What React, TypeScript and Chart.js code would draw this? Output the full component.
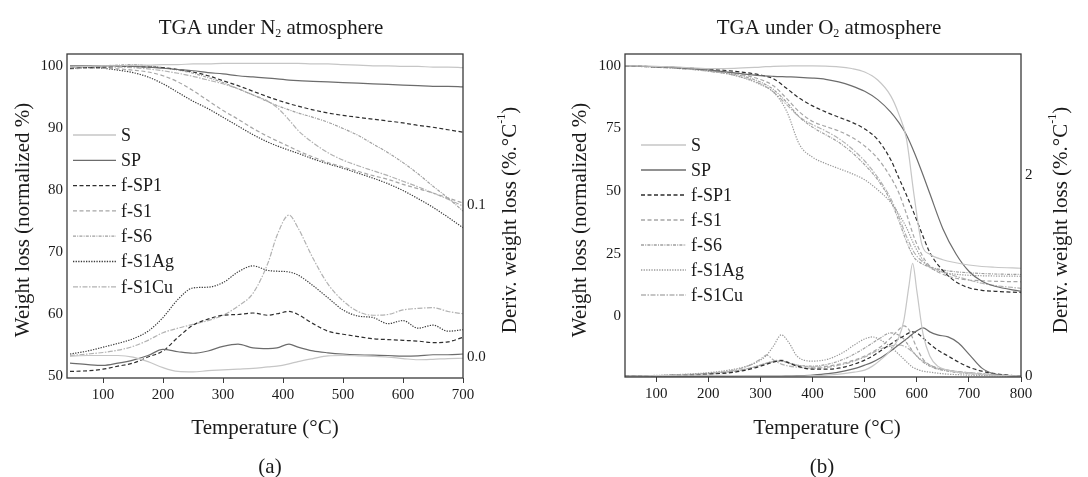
import React, { useEffect, useRef } from 'react';
import { Chart, registerables } from 'chart.js';

Chart.register(...registerables);

const FONT = '"Liberation Serif", "Times New Roman", serif';

// ---------- series names ----------
const SERIES = ['S', 'SP', 'f-SP1', 'f-S1', 'f-S6', 'f-S1Ag', 'f-S1Cu'];

// ---------- panel (a): TGA under N2 ----------
const TEMP_A = [45, 75, 100, 125, 150, 175, 200, 225, 250, 275, 300, 325, 350, 375, 390, 410, 425, 450, 475, 500, 525, 550, 575, 600, 625, 650, 675, 700];
const X_TICKS_A = [100, 200, 300, 400, 500, 600, 700];
const Y_TICKS_A = [50, 60, 70, 80, 90, 100];
const Y1_TICKS_A = [0, 0.1];

const TGA_A_S = [99.8, 99.9, 100.0, 100.0, 100.1, 100.1, 100.2, 100.2, 100.3, 100.3, 100.4, 100.4, 100.4, 100.4, 100.4, 100.4, 100.4, 100.3, 100.3, 100.2, 100.1, 100.0, 100.0, 99.9, 99.9, 99.8, 99.8, 99.7];
const TGA_A_SP = [100.0, 100.0, 100.0, 100.0, 99.9, 99.8, 99.6, 99.4, 99.2, 98.9, 98.7, 98.4, 98.2, 98.0, 97.9, 97.7, 97.6, 97.5, 97.4, 97.3, 97.2, 97.1, 97.0, 96.9, 96.8, 96.7, 96.7, 96.6];
const TGA_A_FSP1 = [99.6, 99.8, 99.8, 99.9, 99.9, 99.8, 99.7, 99.4, 99.0, 98.4, 97.6, 96.8, 95.9, 95.0, 94.5, 93.9, 93.5, 92.9, 92.4, 92.0, 91.7, 91.4, 91.1, 90.8, 90.4, 90.1, 89.7, 89.3];
const TGA_A_FS1 = [99.5, 99.6, 99.6, 99.5, 99.3, 99.0, 98.4, 97.4, 96.0, 94.4, 92.8, 91.4, 89.9, 88.6, 87.9, 87.0, 86.3, 85.3, 84.4, 83.7, 83.0, 82.3, 81.7, 80.9, 80.2, 79.5, 78.7, 77.9];
const TGA_A_FS6 = [99.8, 99.9, 100.0, 100.1, 100.2, 100.0, 99.7, 99.3, 98.8, 98.1, 97.3, 96.3, 95.3, 94.2, 93.6, 92.9, 92.4, 91.7, 90.9, 89.9, 88.8, 87.4, 86.0, 84.4, 82.6, 80.6, 78.7, 76.6];
const TGA_A_FS1AG = [99.6, 99.7, 99.6, 99.3, 98.9, 98.2, 97.1, 95.7, 94.3, 93.1, 91.7, 90.3, 88.9, 87.7, 87.1, 86.4, 85.9, 85.0, 84.2, 83.5, 82.7, 81.9, 81.0, 79.9, 78.6, 77.2, 75.6, 73.9];
const TGA_A_FS1CU = [99.8, 99.8, 99.8, 99.8, 99.7, 99.5, 99.2, 98.8, 98.3, 97.7, 97.1, 96.3, 95.3, 94.3, 93.3, 91.3, 89.6, 87.6, 86.0, 84.8, 83.9, 83.1, 82.3, 81.4, 80.5, 79.5, 78.5, 77.4];

const DTG_A_S = [0.0005, 0.001, 0.001, 0.001, 0.0, -0.003, -0.007, -0.0095, -0.0098, -0.009, -0.0085, -0.008, -0.0075, -0.0065, -0.006, -0.0045, -0.003, -0.001, 0.0008, 0.001, 0.0008, 0.0005, 0.0, -0.001, -0.0018, -0.0015, -0.001, -0.0008];
const DTG_A_SP = [-0.004, -0.005, -0.0055, -0.004, -0.002, 0.001, 0.005, 0.0035, 0.0025, 0.004, 0.007, 0.0085, 0.006, 0.0055, 0.006, 0.0085, 0.0065, 0.004, 0.0028, 0.002, 0.0015, 0.0012, 0.001, 0.0006, 0.0008, 0.0015, 0.0015, 0.002];
const DTG_A_FSP1 = [-0.0095, -0.009, -0.008, -0.006, -0.004, 0.0, 0.004, 0.013, 0.021, 0.025, 0.0275, 0.028, 0.029, 0.0275, 0.0285, 0.03, 0.028, 0.022, 0.017, 0.015, 0.0135, 0.012, 0.0115, 0.011, 0.0105, 0.0095, 0.010, 0.013];
const DTG_A_FS1AG = [0.002, 0.004, 0.0065, 0.009, 0.012, 0.017, 0.026, 0.038, 0.0455, 0.046, 0.049, 0.056, 0.060, 0.057, 0.0565, 0.056, 0.054, 0.047, 0.039, 0.031, 0.027, 0.026, 0.022, 0.024, 0.019, 0.021, 0.017, 0.018];
const DTG_A_FS1CU = [0.001, 0.002, 0.003, 0.0045, 0.007, 0.011, 0.016, 0.019, 0.0215, 0.024, 0.0275, 0.0335, 0.042, 0.062, 0.08, 0.0935, 0.085, 0.065, 0.048, 0.037, 0.030, 0.0275, 0.028, 0.031, 0.032, 0.0325, 0.030, 0.0285];

// ---------- panel (b): TGA under O2 ----------
const TEMP_B = [40, 100, 150, 200, 250, 300, 325, 350, 375, 400, 425, 450, 475, 500, 525, 550, 565, 580, 595, 610, 625, 650, 675, 700, 725, 750, 800];
const TEMP_BD = [40, 100, 150, 200, 250, 280, 300, 312, 325, 340, 355, 370, 400, 430, 460, 480, 500, 515, 530, 550, 565, 575, 585, 592, 600, 612, 625, 640, 660, 680, 700, 725, 750, 775, 800];
const X_TICKS_B = [100, 200, 300, 400, 500, 600, 700, 800];
const Y_TICKS_B = [0, 25, 50, 75, 100];
const Y1_TICKS_B = [0, 2];

const TGA_B_S = [100, 99.8, 99.4, 98.9, 99.0, 99.5, 99.8, 99.9, 100, 100, 99.9, 99.6, 98.9, 97.5, 94.3, 88.0, 81.0, 71.0, 48.0, 28.5, 24.8, 22.6, 21.4, 20.5, 19.9, 19.6, 19.2];
const TGA_B_SP = [100, 99.7, 99.2, 98.4, 97.2, 96.1, 95.8, 95.6, 95.4, 95.1, 94.6, 93.6, 92.0, 89.8, 86.5, 81.5, 77.5, 72.5, 65.5, 57.5, 49.0, 35.0, 25.0, 18.0, 14.0, 12.0, 10.0];
const TGA_B_FSP1 = [100, 99.6, 99.2, 98.6, 97.8, 96.3, 94.8, 91.0, 87.0, 84.0, 81.6, 79.5, 77.5, 74.8, 70.5, 62.5, 55.5, 48.5, 41.0, 33.0, 25.5, 18.3, 13.8, 11.4, 10.4, 10.0, 9.5];
const TGA_B_FS1 = [100, 99.6, 99.1, 98.3, 97.0, 94.5, 92.0, 87.0, 81.5, 77.8, 75.8, 74.0, 71.5, 68.0, 63.0, 55.5, 49.5, 41.0, 31.5, 24.5, 20.0, 16.8, 15.2, 14.5, 14.2, 14.0, 13.8];
const TGA_B_FS6 = [100, 99.5, 99.0, 98.1, 96.7, 93.5, 90.5, 85.5, 79.5, 75.5, 72.5, 69.5, 65.5, 60.5, 54.5, 46.0, 38.5, 30.0, 23.5, 21.0, 19.7, 18.5, 17.8, 17.4, 17.1, 16.9, 16.7];
const TGA_B_FS1AG = [100, 99.5, 98.9, 97.9, 96.2, 92.5, 89.5, 82.0, 68.5, 63.5, 61.0, 59.0, 57.0, 54.5, 50.5, 45.5, 41.0, 35.5, 28.5, 23.0, 19.5, 17.6, 16.8, 16.4, 16.2, 16.1, 16.0];
const TGA_B_FS1CU = [100, 99.4, 98.8, 97.8, 96.2, 92.8, 89.5, 84.5, 79.5, 76.5, 74.0, 71.0, 67.0, 62.0, 55.5, 47.0, 40.0, 32.0, 25.5, 22.0, 20.0, 17.8, 16.0, 14.5, 13.2, 12.3, 11.2];

const DTG_B_S = [0, 0.005, 0.01, 0.012, 0.005, 0, 0, 0, 0, 0, 0, 0, 0.005, 0.012, 0.025, 0.04, 0.06, 0.1, 0.16, 0.26, 0.38, 0.55, 0.9, 1.12, 0.85, 0.42, 0.2, 0.1, 0.06, 0.04, 0.03, 0.02, 0.01, 0.005, 0];
const DTG_B_SP = [0, 0, 0, 0, 0, 0, 0, 0, 0, 0.002, 0.004, 0.006, 0.012, 0.025, 0.05, 0.075, 0.11, 0.14, 0.18, 0.25, 0.31, 0.35, 0.39, 0.42, 0.45, 0.48, 0.44, 0.41, 0.39, 0.33, 0.22, 0.08, 0.02, 0.005, 0];
const DTG_B_FSP1 = [0, 0.005, 0.01, 0.02, 0.04, 0.07, 0.1, 0.12, 0.14, 0.155, 0.13, 0.1, 0.07, 0.07, 0.09, 0.12, 0.16, 0.2, 0.25, 0.32, 0.37, 0.4, 0.43, 0.44, 0.43, 0.38, 0.32, 0.26, 0.2, 0.14, 0.09, 0.05, 0.025, 0.01, 0];
const DTG_B_FS1 = [0, 0.005, 0.012, 0.025, 0.05, 0.08, 0.11, 0.13, 0.15, 0.16, 0.135, 0.11, 0.09, 0.1, 0.13, 0.16, 0.2, 0.24, 0.29, 0.38, 0.46, 0.5, 0.46, 0.38, 0.28, 0.17, 0.11, 0.08, 0.06, 0.045, 0.035, 0.025, 0.015, 0.008, 0];
const DTG_B_FS6 = [0, 0.005, 0.012, 0.025, 0.05, 0.08, 0.11, 0.13, 0.145, 0.15, 0.13, 0.11, 0.1, 0.12, 0.17, 0.22, 0.28, 0.33, 0.38, 0.43, 0.41, 0.37, 0.3, 0.25, 0.2, 0.14, 0.1, 0.07, 0.05, 0.035, 0.025, 0.015, 0.01, 0.005, 0];
const DTG_B_FS1AG = [0, 0.008, 0.018, 0.035, 0.07, 0.11, 0.16, 0.21, 0.3, 0.41, 0.33, 0.2, 0.15, 0.17, 0.24, 0.31, 0.37, 0.39, 0.36, 0.29, 0.22, 0.17, 0.12, 0.09, 0.07, 0.05, 0.04, 0.03, 0.02, 0.015, 0.01, 0.008, 0.005, 0.003, 0];
const DTG_B_FS1CU = [0, 0.006, 0.015, 0.03, 0.06, 0.11, 0.17, 0.21, 0.16, 0.12, 0.1, 0.09, 0.08, 0.09, 0.12, 0.15, 0.19, 0.23, 0.27, 0.3, 0.31, 0.3, 0.27, 0.24, 0.2, 0.15, 0.11, 0.08, 0.06, 0.045, 0.035, 0.025, 0.015, 0.008, 0];

// ---------- styles ----------
const COLORS_A = ['#c6c6c6', '#6c6c6c', '#2e2e2e', '#a6a6a6', '#a0a0a0', '#3a3a3a', '#b2b2b2'];
const COLORS_B = ['#c6c6c6', '#6c6c6c', '#2e2e2e', '#a6a6a6', '#a0a0a0', '#9a9a9a', '#b2b2b2'];
const DASHES: number[][] = [[], [], [4, 2.5], [4, 2.5], [3, 1.2, 1, 1.2], [1.3, 1.3], [5, 1.5, 1.5, 1.5]];

type Seg = { t: string; s: number; dy?: number };

type Deco = {
  title: Seg[];
  titleX: number;
  leftTitle: string;
  leftX: number;
  rightTitle: Seg[];
  rightX: number;
  axisTitleY: number;
  xTitle: string;
  xTitleX: number;
  tag: string;
  tagX: number;
  legendX0: number;
  legendX1: number;
  legendY0: number;
  legendDY: number;
  colors: string[];
};

function drawSegs(ctx: CanvasRenderingContext2D, segs: Seg[], cx: number, cy: number, rot: number) {
  ctx.save();
  ctx.translate(cx, cy);
  ctx.rotate(rot);
  ctx.textBaseline = 'middle';
  ctx.textAlign = 'left';
  ctx.fillStyle = '#1a1a1a';
  const widths = segs.map((sg) => {
    ctx.font = `${sg.s}px ${FONT}`;
    return ctx.measureText(sg.t).width;
  });
  const total = widths.reduce((a, b) => a + b, 0);
  let x = -total / 2;
  segs.forEach((sg, i) => {
    ctx.font = `${sg.s}px ${FONT}`;
    ctx.fillText(sg.t, x, sg.dy || 0);
    x += widths[i];
  });
  ctx.restore();
}

function makeDeco(d: Deco) {
  return {
    id: 'deco',
    afterDraw(chart: any) {
      const { ctx, chartArea } = chart;
      ctx.save();
      ctx.strokeStyle = '#3a3a3a';
      ctx.lineWidth = 1.3;
      ctx.setLineDash([]);
      ctx.strokeRect(chartArea.left, chartArea.top, chartArea.right - chartArea.left, chartArea.bottom - chartArea.top);
      ctx.restore();

      drawSegs(ctx, d.title, d.titleX, 28, 0);
      drawSegs(ctx, [{ t: d.leftTitle, s: 21 }], d.leftX, d.axisTitleY, -Math.PI / 2);
      drawSegs(ctx, d.rightTitle, d.rightX, d.axisTitleY, -Math.PI / 2);
      drawSegs(ctx, [{ t: d.xTitle, s: 21 }], d.xTitleX, 428, 0);
      drawSegs(ctx, [{ t: d.tag, s: 21 }], d.tagX, 467, 0);

      ctx.save();
      SERIES.forEach((name, i) => {
        const y = d.legendY0 + i * d.legendDY;
        ctx.strokeStyle = d.colors[i];
        ctx.lineWidth = 1.3;
        ctx.setLineDash(DASHES[i]);
        ctx.beginPath();
        ctx.moveTo(d.legendX0, y);
        ctx.lineTo(d.legendX1, y);
        ctx.stroke();
        ctx.setLineDash([]);
        ctx.fillStyle = '#1a1a1a';
        ctx.font = `18px ${FONT}`;
        ctx.textAlign = 'left';
        ctx.textBaseline = 'middle';
        ctx.fillText(name, d.legendX1 + 5, y + 1);
      });
      ctx.restore();
    },
  };
}

function series(temps: number[], vals: number[], i: number, colors: string[], axis: string) {
  return {
    label: SERIES[i] + (axis === 'y1' ? ' DTG' : ''),
    data: temps.map((t, k) => ({ x: t, y: vals[k] })),
    borderColor: colors[i],
    borderDash: DASHES[i],
    borderWidth: 1.2,
    pointRadius: 0,
    fill: false,
    cubicInterpolationMode: 'monotone',
    yAxisID: axis,
  };
}

type AxisCfg = {
  xMin: number; xMax: number; xTicks: number[];
  yMin: number; yMax: number; yTicks: number[];
  y1Min: number; y1Max: number; y1Ticks: number[]; y1Fmt: (v: number) => string;
  leftW: number; rightW: number; xH: number;
};

function makeOptions(a: AxisCfg) {
  const tickFont = { family: FONT, size: 15 };
  return {
    responsive: false,
    animation: false,
    events: [],
    layout: { padding: { top: 54, left: 0, right: 0, bottom: 0 } },
    plugins: { legend: { display: false }, title: { display: false }, tooltip: { enabled: false } },
    scales: {
      x: {
        type: 'linear',
        min: a.xMin,
        max: a.xMax,
        afterBuildTicks: (s: any) => { s.ticks = a.xTicks.map((v) => ({ value: v })); },
        afterFit: (s: any) => { s.height = a.xH; },
        grid: { display: true, drawOnChartArea: false, drawTicks: true, tickLength: 5, color: '#3a3a3a', lineWidth: 1 },
        border: { display: false },
        ticks: { font: tickFont, color: '#1a1a1a', padding: 3, maxRotation: 0, autoSkip: false },
      },
      y: {
        type: 'linear',
        position: 'left',
        min: a.yMin,
        max: a.yMax,
        afterBuildTicks: (s: any) => { s.ticks = a.yTicks.map((v) => ({ value: v })); },
        afterFit: (s: any) => { s.width = a.leftW; },
        grid: { display: false, drawTicks: false },
        border: { display: false },
        ticks: { font: tickFont, color: '#1a1a1a', padding: 4 },
      },
      y1: {
        type: 'linear',
        position: 'right',
        min: a.y1Min,
        max: a.y1Max,
        afterBuildTicks: (s: any) => { s.ticks = a.y1Ticks.map((v) => ({ value: v })); },
        afterFit: (s: any) => { s.width = a.rightW; },
        grid: { display: false, drawTicks: false },
        border: { display: false },
        ticks: { font: tickFont, color: '#1a1a1a', padding: 4, callback: (v: any) => a.y1Fmt(Number(v)) },
      },
    },
  };
}

function Panel({ which }: { which: 'a' | 'b' }) {
  const ref = useRef<HTMLCanvasElement | null>(null);
  useEffect(() => {
    if (!ref.current) return;
    let datasets: any[];
    let options: any;
    let deco: Deco;
    if (which === 'a') {
      const C = COLORS_A;
      datasets = [
        series(TEMP_A, TGA_A_S, 0, C, 'y'),
        series(TEMP_A, TGA_A_SP, 1, C, 'y'),
        series(TEMP_A, TGA_A_FSP1, 2, C, 'y'),
        series(TEMP_A, TGA_A_FS1, 3, C, 'y'),
        series(TEMP_A, TGA_A_FS6, 4, C, 'y'),
        series(TEMP_A, TGA_A_FS1AG, 5, C, 'y'),
        series(TEMP_A, TGA_A_FS1CU, 6, C, 'y'),
        series(TEMP_A, DTG_A_S, 0, C, 'y1'),
        series(TEMP_A, DTG_A_SP, 1, C, 'y1'),
        series(TEMP_A, DTG_A_FSP1, 2, C, 'y1'),
        series(TEMP_A, DTG_A_FS1AG, 5, C, 'y1'),
        series(TEMP_A, DTG_A_FS1CU, 6, C, 'y1'),
      ];
      options = makeOptions({
        xMin: 40, xMax: 700, xTicks: X_TICKS_A,
        yMin: 49.7, yMax: 101.9, yTicks: Y_TICKS_A,
        y1Min: -0.0138, y1Max: 0.1995, y1Ticks: Y1_TICKS_A, y1Fmt: (v) => v.toFixed(1),
        leftW: 67, rightW: 81, xH: 99,
      });
      deco = {
        title: [{ t: 'TGA under N', s: 21 }, { t: '2', s: 12, dy: 6 }, { t: ' atmosphere', s: 21 }],
        titleX: 271,
        leftTitle: 'Weight loss (normalized %)',
        leftX: 23,
        rightTitle: [{ t: 'Deriv. weight loss (%.°C', s: 21 }, { t: '-1', s: 12, dy: -8 }, { t: ')', s: 21 }],
        rightX: 510,
        axisTitleY: 220,
        xTitle: 'Temperature (°C)',
        xTitleX: 265,
        tag: '(a)',
        tagX: 270,
        legendX0: 73, legendX1: 116, legendY0: 135, legendDY: 25.3,
        colors: C,
      };
    } else {
      const C = COLORS_B;
      datasets = [
        series(TEMP_B, TGA_B_S, 0, C, 'y'),
        series(TEMP_B, TGA_B_SP, 1, C, 'y'),
        series(TEMP_B, TGA_B_FSP1, 2, C, 'y'),
        series(TEMP_B, TGA_B_FS1, 3, C, 'y'),
        series(TEMP_B, TGA_B_FS6, 4, C, 'y'),
        series(TEMP_B, TGA_B_FS1AG, 5, C, 'y'),
        series(TEMP_B, TGA_B_FS1CU, 6, C, 'y'),
        series(TEMP_BD, DTG_B_S, 0, C, 'y1'),
        series(TEMP_BD, DTG_B_SP, 1, C, 'y1'),
        series(TEMP_BD, DTG_B_FSP1, 2, C, 'y1'),
        series(TEMP_BD, DTG_B_FS1, 3, C, 'y1'),
        series(TEMP_BD, DTG_B_FS6, 4, C, 'y1'),
        series(TEMP_BD, DTG_B_FS1AG, 5, C, 'y1'),
        series(TEMP_BD, DTG_B_FS1CU, 6, C, 'y1'),
      ];
      options = makeOptions({
        xMin: 40, xMax: 800, xTicks: X_TICKS_B,
        yMin: -24.2, yMax: 104.7, yTicks: Y_TICKS_B,
        y1Min: -0.008, y1Max: 3.2, y1Ticks: Y1_TICKS_B, y1Fmt: (v) => String(Math.round(v)),
        leftW: 81, rightW: 67, xH: 100,
      });
      deco = {
        title: [{ t: 'TGA under O', s: 21 }, { t: '2', s: 12, dy: 6 }, { t: ' atmosphere', s: 21 }],
        titleX: 285,
        leftTitle: 'Weight loss (normalized %)',
        leftX: 36,
        rightTitle: [{ t: 'Deriv. weight loss (%.°C', s: 21 }, { t: '-1', s: 12, dy: -8 }, { t: ')', s: 21 }],
        rightX: 517,
        axisTitleY: 220,
        xTitle: 'Temperature (°C)',
        xTitleX: 283,
        tag: '(b)',
        tagX: 278,
        legendX0: 97, legendX1: 142, legendY0: 145, legendDY: 25,
        colors: C,
      };
    }
    const chart = new Chart(ref.current, {
      type: 'line',
      data: { datasets },
      options,
      plugins: [makeDeco(deco)],
    } as any);
    return () => chart.destroy();
  }, [which]);
  return <canvas ref={ref} width={544} height={477} style={{ display: 'block', width: 544, height: 477 }} />;
}

export default function App() {
  return (
    <div style={{ position: 'absolute', left: 0, top: 0, width: 1088, height: 477, background: '#ffffff', display: 'flex' }}>
      <Panel which="a" />
      <Panel which="b" />
    </div>
  );
}
